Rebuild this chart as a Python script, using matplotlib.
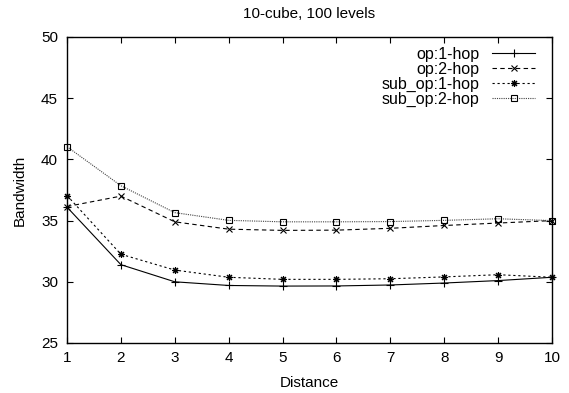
import numpy as np
import matplotlib.pyplot as plt

plt.rcParams['font.family'] = ['Liberation Sans', 'DejaVu Sans']
plt.rcParams['font.size'] = 11

distance = [1, 2, 3, 4, 5, 6, 7, 8, 9, 10]
op_1hop = [36.1, 31.4, 30.0, 29.7, 29.65, 29.66, 29.74, 29.9, 30.1, 30.37]
op_2hop = [36.15, 37.0, 34.9, 34.3, 34.2, 34.22, 34.37, 34.6, 34.8, 35.0]
sub_op_1hop = [37.05, 32.25, 30.96, 30.37, 30.2, 30.2, 30.25, 30.4, 30.58, 30.37]
sub_op_2hop = [41.04, 37.85, 35.65, 35.02, 34.9, 34.9, 34.92, 35.02, 35.15, 35.0]

fig = plt.figure(figsize=(5.69, 3.93), dpi=100)
ax = fig.add_axes([67 / 569, 50 / 393, 485 / 569, 306 / 393])

lw = 0.8
ax.plot(distance, op_1hop, color='black', lw=lw, ls='-', marker='+',
        ms=6, mew=0.8, clip_on=False, label='op:1-hop')
ax.plot(distance, op_2hop, color='black', lw=lw, ls=(0, (4, 3)), marker='x',
        ms=4.5, mew=0.8, clip_on=False, label='op:2-hop')
ax.plot(distance, sub_op_1hop, color='black', lw=lw, ls=(0, (2, 2.5)),
        marker=(8, 2, 0), ms=5, mew=0.8, clip_on=False, label='sub_op:1-hop')
ax.plot(distance, sub_op_2hop, color='#444444', lw=lw, ls=(0, (1, 1)),
        marker='s', ms=5, mew=0.8, mfc='none', mec='black', clip_on=False,
        label='sub_op:2-hop')

ax.set_xlim(1, 10)
ax.set_ylim(25, 50)
ax.set_xticks(distance)
ax.set_yticks(np.arange(25, 51, 5))
ax.tick_params(direction='in', length=4, width=0.8, top=True, right=True,
               labelsize=11)
ax.tick_params(axis='x', pad=6)
ax.tick_params(axis='y', pad=6.5)
for s in ax.spines.values():
    s.set_linewidth(1.0)

ax.set_xlabel('Distance', fontsize=11, labelpad=8)
ax.set_ylabel('Bandwidth', fontsize=11, labelpad=10)
ax.set_title('10-cube, 100 levels', fontsize=11, pad=14)

ax.legend(loc='upper right', bbox_to_anchor=(0.985, 1.0), markerfirst=False,
          frameon=False, fontsize=11.5, handlelength=2.7, handletextpad=0.8,
          labelspacing=0.0, borderaxespad=0.2)

fig.savefig('out.png', dpi=100)
